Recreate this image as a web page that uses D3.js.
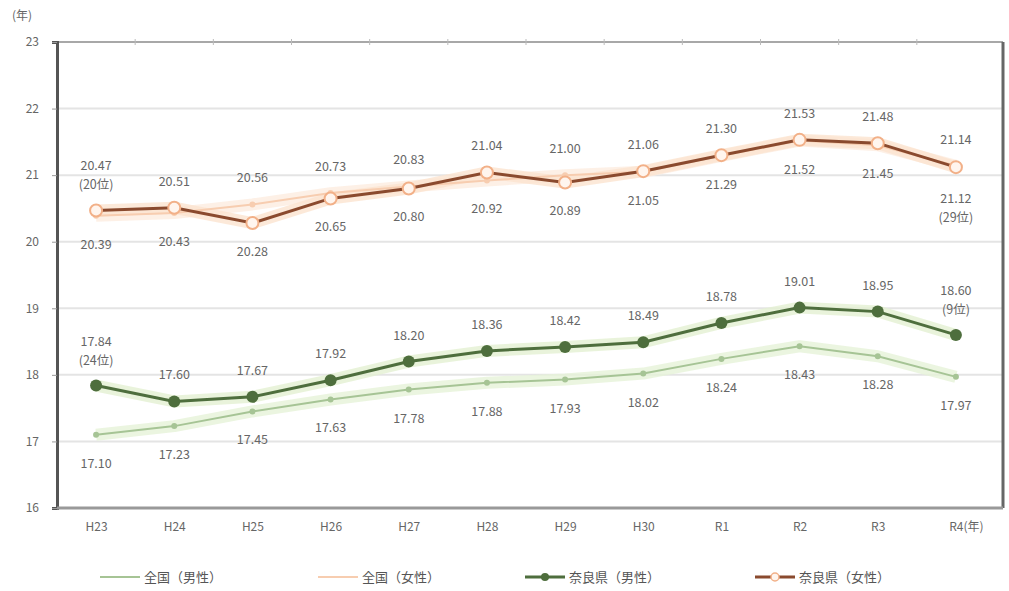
<!DOCTYPE html>
<html>
<head>
<meta charset="utf-8">
<script src="https://cdn.jsdelivr.net/npm/d3@7"></script>
<style>
body { margin: 0; background: #fff; }
text { font-family: "Noto Sans CJK JP", "DejaVu Sans", sans-serif; }
</style>
</head>
<body>
<script>
var w = 1009;
var h = 591;

// categories (years)
var years = ["H23", "H24", "H25", "H26", "H27", "H28", "H29", "H30", "R1", "R2", "R3", "R4"];
var yTicks = [16, 17, 18, 19, 20, 21, 22, 23];

// series values
var zenkokuMale   = [17.10, 17.23, 17.45, 17.63, 17.78, 17.88, 17.93, 18.02, 18.24, 18.43, 18.28, 17.97];
var zenkokuFemale = [20.39, 20.43, 20.56, 20.73, 20.83, 20.92, 21.00, 21.05, 21.29, 21.52, 21.45, 21.14];
var naraMale      = [17.84, 17.60, 17.67, 17.92, 18.20, 18.36, 18.42, 18.49, 18.78, 19.01, 18.95, 18.60];
var naraFemale    = [20.47, 20.51, 20.28, 20.65, 20.80, 21.04, 20.89, 21.06, 21.30, 21.53, 21.48, 21.12];

// ranks shown under some labels (index -> text)
var naraMaleRank = { 0: "(24位)", 11: "(9位)" };
var naraFemaleRank = { 0: "(20位)", 11: "(29位)" };

var plotLeft = 57, plotRight = 1003, plotTop = 42, plotBottom = 508;

var svg = d3.select("body").append("svg")
    .attr("width", w)
    .attr("height", h);

var xScale = d3.scalePoint()
    .domain(years)
    .range([plotLeft, plotRight - 8])
    .padding(0.5);

var yScale = d3.scaleLinear()
    .domain([16, 23])
    .range([plotBottom, plotTop]);

// grid lines
svg.append("g")
    .selectAll("line")
    .data(yTicks.slice(1, -1))
    .enter()
    .append("line")
    .attr("x1", plotLeft)
    .attr("x2", plotRight)
    .attr("y1", function(d) { return yScale(d); })
    .attr("y2", function(d) { return yScale(d); })
    .attr("stroke", "#e4e4e4")
    .attr("stroke-width", 2);

// top frame line
svg.append("line")
    .attr("x1", plotLeft).attr("x2", plotRight)
    .attr("y1", plotTop).attr("y2", plotTop)
    .attr("stroke", "#a8a8a8").attr("stroke-width", 2);

// right frame
svg.append("line")
    .attr("x1", plotRight).attr("x2", plotRight)
    .attr("y1", plotTop).attr("y2", plotBottom)
    .attr("stroke", "#666").attr("stroke-width", 3);

// y axis
var yAxis = svg.append("g")
    .attr("transform", "translate(" + plotLeft + ",0)")
    .call(d3.axisLeft(yScale).tickValues(yTicks).tickSize(5).tickFormat(d3.format("d")));
yAxis.select(".domain").attr("stroke", "#555").attr("stroke-width", 3);
yAxis.selectAll(".tick line").attr("stroke", "#999");
yAxis.selectAll(".tick text")
    .attr("fill", "#666")
    .attr("font-size", 12)
    .attr("x", -18);

// x axis
var xAxis = svg.append("g")
    .attr("transform", "translate(0," + plotBottom + ")")
    .call(d3.axisBottom(xScale).tickSize(0).tickPadding(14));
xAxis.select(".domain").attr("d", "M" + plotLeft + ",0H" + plotRight).attr("stroke", "#999").attr("stroke-width", 3);
xAxis.selectAll(".tick text")
    .attr("fill", "#666")
    .attr("font-size", 12)
    .text(function(d) { return d === "R4" ? "R4(年)" : d; })
    .attr("dx", function(d) { return d === "R4" ? 10 : 0; });

// small ticks at category boundaries on the top line
var step = xScale.step();
svg.append("g")
    .selectAll("line")
    .data(years.slice(1))
    .enter()
    .append("line")
    .attr("x1", function(d) { return xScale(d) - step / 2; })
    .attr("x2", function(d) { return xScale(d) - step / 2; })
    .attr("y1", plotTop - 3)
    .attr("y2", plotTop + 3)
    .attr("stroke", "#bbb");

// unit
svg.append("text")
    .attr("x", 12)
    .attr("y", 20)
    .attr("font-size", 12)
    .attr("fill", "#666")
    .text("(年)");

var line = d3.line()
    .x(function(d, i) { return xScale(years[i]); })
    .y(function(d) { return yScale(d); });

var series = [
    { name: "全国（男性）", values: zenkokuMale, color: "#a6c495", halo: "#e6f2d8", width: 2, marker: "small", mColor: "#a6c495" },
    { name: "全国（女性）", values: zenkokuFemale, color: "#f7cdb0", halo: "#fdece0", width: 2, marker: "small", mColor: "#f7cdb0" },
    { name: "奈良県（男性）", values: naraMale, color: "#4e6e3d", halo: "#e4f0d2", width: 3, marker: "dot", mColor: "#4e6e3d" },
    { name: "奈良県（女性）", values: naraFemale, color: "#8a4a2e", halo: "#fbe3d0", width: 3, marker: "ring", mColor: "#f2b088" }
];

series.forEach(function(s) {
    svg.append("path")
        .datum(s.values)
        .attr("d", line)
        .attr("fill", "none")
        .attr("stroke", s.halo)
        .attr("stroke-width", 12)
        .attr("stroke-linejoin", "round")
        .attr("opacity", 0.8);
});

series.forEach(function(s) {
    svg.append("path")
        .datum(s.values)
        .attr("d", line)
        .attr("fill", "none")
        .attr("stroke", s.color)
        .attr("stroke-width", s.width);

    var pts = svg.append("g").selectAll("circle")
        .data(s.values)
        .enter()
        .append("circle")
        .attr("cx", function(d, i) { return xScale(years[i]); })
        .attr("cy", function(d) { return yScale(d); });

    if (s.marker === "small") {
        pts.attr("r", 3).attr("fill", s.mColor);
    } else if (s.marker === "dot") {
        pts.attr("r", 6).attr("fill", s.mColor);
    } else {
        pts.attr("r", 6).attr("fill", "#fff5ee").attr("stroke", s.mColor).attr("stroke-width", 2);
    }
});

// data labels
var labelColor = "#666";
function addLabel(x, y, txt) {
    svg.append("text")
        .attr("x", x)
        .attr("y", y)
        .attr("text-anchor", "middle")
        .attr("font-size", 12.5)
        .attr("fill", labelColor)
        .text(txt);
}

years.forEach(function(yr, i) {
    var x = xScale(yr);

    // male: nara above, zenkoku below
    var ym = yScale(naraMale[i]);
    if (naraMaleRank[i]) {
        addLabel(x, ym - 40, naraMale[i].toFixed(2));
        addLabel(x, ym - 21, naraMaleRank[i]);
    } else {
        addLabel(x, ym - 22, naraMale[i].toFixed(2));
    }
    addLabel(x, yScale(zenkokuMale[i]) + 33, zenkokuMale[i].toFixed(2));

    // female: higher value above, lower below
    var naraHigh = naraFemale[i] >= zenkokuFemale[i];
    var hi = naraHigh ? naraFemale[i] : zenkokuFemale[i];
    var lo = naraHigh ? zenkokuFemale[i] : naraFemale[i];
    var yHi = yScale(hi), yLo = yScale(lo);
    var rank = naraFemaleRank[i];
    if (rank && naraHigh) {
        addLabel(x, yHi - 40, hi.toFixed(2));
        addLabel(x, yHi - 21, rank);
    } else {
        addLabel(x, yHi - 22, hi.toFixed(2));
    }
    if (rank && !naraHigh) {
        addLabel(x, yLo + 36, lo.toFixed(2));
        addLabel(x, yLo + 55, rank);
    } else {
        addLabel(x, yLo + 33, lo.toFixed(2));
    }
});

// legend
var legendX = [100, 318, 525, 755];
var legend = svg.append("g").selectAll("g")
    .data(series)
    .enter()
    .append("g")
    .attr("transform", function(d, i) { return "translate(" + legendX[i] + ",577)"; });

legend.append("line")
    .attr("x1", 0).attr("x2", 40)
    .attr("stroke", function(d) { return d.color; })
    .attr("stroke-width", function(d) { return d.width; });

legend.append("circle")
    .attr("cx", 20)
    .attr("r", function(d) { return d.marker === "small" ? 0 : 4; })
    .attr("fill", function(d) { return d.marker === "ring" ? "#fff5ee" : d.mColor; })
    .attr("stroke", function(d) { return d.marker === "ring" ? d.mColor : "none"; })
    .attr("stroke-width", 1.5);

legend.append("text")
    .attr("x", 44)
    .attr("y", 5)
    .attr("font-size", 13)
    .attr("fill", "#555")
    .text(function(d) { return d.name; });
</script>
</body>
</html>
